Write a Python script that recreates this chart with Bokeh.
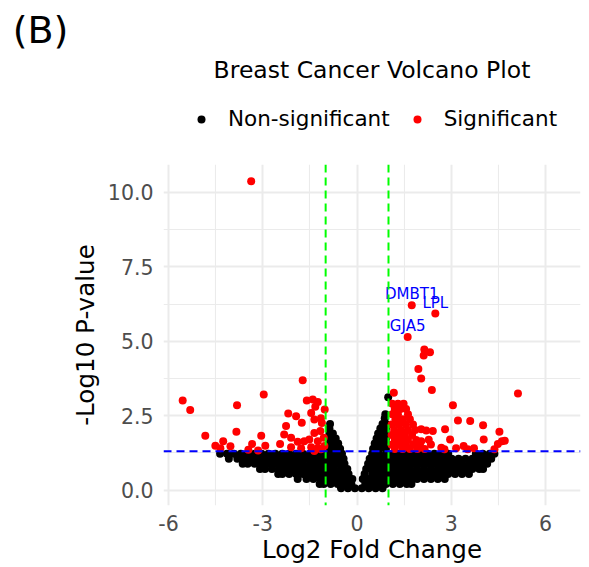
import numpy as np
from bokeh.plotting import figure
from bokeh.layouts import column
from bokeh.models import (ColumnDataSource, FixedTicker, Legend, LegendItem,
                          Span, Range1d)
from bokeh.core.properties import value
from bokeh.embed import file_html
from bokeh.resources import INLINE

FONT = "DejaVu Sans"

# ---- thresholds ----
FC_CUTOFF = 1.0
P_CUTOFF = 0.05

# ---- axis ticks ----
x_ticks = [-6, -3, 0, 3, 6]
x_tick_labels = ["-6", "-3", "0", "3", "6"]
x_minor = [-4.5, -1.5, 1.5, 4.5]
y_ticks = [0, 2.5, 5, 7.5, 10]
y_tick_labels = ["0.0", "2.5", "5.0", "7.5", "10.0"]
y_minor = [1.25, 3.75, 6.25, 8.75]

# ---- significant genes (log2FC, -log10 p) ----
sig_x = [-3.37, -5.55, -5.31, -2.97, -3.82, -4.83, -3.84, -4.51, -4.26, -4.35,
         -4.03, -3.34, -3.05, -2.92, -3.15, -3.46, -2.45, -1.73, -1.60, -1.41,
         -1.25, -1.03, -2.19, -1.94, -1.76, -1.46, -1.36, -1.15, -2.26, -2.32,
         -2.10, -1.89, -1.68, -1.52, -1.36, -1.17, -1.25, -1.06, -1.46, -1.04,
         -2.10, -1.78, -1.25, -1.33, -1.12, -1.36, -1.15,
         1.74, 2.49, 1.61, 2.14, 2.32, 2.12, 1.95, 2.04, 2.38, 1.17,
         3.05, 5.12, 3.21, 3.60, 4.01, 2.80, 4.53, 2.96, 4.03, 4.61,
         4.48, 3.39, 3.72, 4.37, 2.04, 2.20, 2.41, 2.28, 2.68, 3.15,
         2.78, 2.04, 2.35, 4.70, 3.52,
         1.12, 1.30, 1.48, 1.20, 1.38, 1.56, 1.12, 1.30, 1.62, 1.22,
         1.45, 1.68, 1.10, 1.32, 1.55, 1.78, 1.18, 1.40, 1.62, 1.85,
         1.10, 1.30, 1.52, 1.75, 1.20, 1.42, 1.62, 1.88, 1.10, 1.32,
         1.55, 1.78, 2.00, 1.20, 1.45, 1.68, 1.92, 2.15]
sig_y = [10.38, 3.01, 2.69, 3.21, 2.85, 1.82, 1.96, 1.49, 1.64, 1.40,
         1.47, 1.55, 1.82, 1.49, 1.33, 1.35, 1.55, 3.69, 3.01, 3.04,
         2.96, 2.71, 2.57, 2.48, 2.26, 2.59, 2.37, 2.41, 2.15, 1.87,
         1.76, 1.62, 1.64, 1.70, 1.92, 1.98, 1.64, 1.76, 1.44, 1.48,
         1.44, 1.40, 1.40, 2.80, 2.25, 1.31, 1.37,
         6.21, 5.93, 5.14, 4.72, 4.63, 4.52, 4.07, 3.75, 3.36, 3.27,
         2.85, 3.24, 2.34, 2.32, 2.18, 2.04, 1.96, 1.70, 1.70, 1.64,
         1.55, 1.48, 1.40, 1.37, 2.04, 2.00, 1.98, 1.69, 1.42, 1.40,
         1.37, 1.64, 1.53, 1.66, 1.37,
         2.90, 2.90, 2.90, 2.72, 2.72, 2.72, 2.55, 2.55, 2.55, 2.38,
         2.38, 2.38, 2.20, 2.20, 2.20, 2.20, 2.02, 2.02, 2.02, 2.02,
         1.85, 1.85, 1.85, 1.85, 1.68, 1.68, 1.68, 1.68, 1.52, 1.52,
         1.52, 1.52, 1.52, 1.38, 1.38, 1.38, 1.38, 1.38]

# ---- non-significant genes, read row by row off the dense cloud ----
ns_levels = [1.22, 1.05, 0.88, 0.71, 0.54, 0.37, 0.20, 0.06,
             1.39, 1.56, 1.73, 1.90, 2.07, 2.22, 2.41, 2.55, 3.12]
ns_x_by_level = [
    [-4.36, -4.14, -3.92, -3.70, -3.48, -3.26, -3.04, -2.82, -2.60, -2.38,
     -2.16, -1.94, -1.72, -1.50, -1.28, -1.06, -0.84, -0.62, -0.48,
     0.48, 0.70, 0.92, 1.14, 1.36, 1.58, 1.80, 2.02, 2.24, 2.46, 2.68, 2.90,
     3.78, 4.00, 4.22, 4.37],
    [-4.08, -3.81, -3.59, -3.37, -3.15, -2.93, -2.71, -2.49, -2.27, -2.05,
     -1.83, -1.61, -1.39, -1.17, -0.95, -0.73, -0.51, -0.43,
     0.40, 0.59, 0.81, 1.03, 1.25, 1.47, 1.69, 1.91, 2.13, 2.35, 2.57, 2.79,
     3.01, 3.23, 3.45, 3.67, 3.89, 4.11, 4.27],
    [-3.64, -3.48, -3.26, -3.04, -2.82, -2.60, -2.38, -2.16, -1.94, -1.72,
     -1.50, -1.28, -1.06, -0.84, -0.62, -0.40,
     0.35, 0.48, 0.70, 0.92, 1.14, 1.36, 1.58, 1.80, 2.02, 2.24, 2.46, 2.68,
     2.90, 3.12, 3.34, 3.56, 3.78, 4.00, 4.14],
    [-3.09, -2.93, -2.71, -2.49, -2.27, -2.05, -1.83, -1.61, -1.39, -1.17,
     -0.95, -0.73, -0.51, -0.31,
     0.29, 0.44, 0.59, 0.81, 1.03, 1.25, 1.47, 1.69, 1.91, 2.13, 2.35, 2.57,
     2.79, 3.01, 3.23, 3.45, 3.67, 3.89, 4.01],
    [-2.51, -2.38, -2.16, -1.94, -1.72, -1.50, -1.28, -1.06, -0.84, -0.62,
     -0.40, -0.27,
     0.24, 0.48, 0.70, 0.92, 1.14, 1.36, 1.58, 1.80, 2.02, 2.24, 2.46, 2.68,
     2.90, 3.12, 3.34, 3.56],
    [-1.89, -1.61, -1.39, -1.17, -0.95, -0.73, -0.51, -0.29, -0.15,
     0.18, 0.37, 0.59, 0.81, 1.03, 1.25, 1.47, 1.69, 1.91, 2.13, 2.35, 2.57,
     2.79],
    [-1.19, -1.06, -0.84, -0.62, -0.40, -0.18,
     0.26, 0.48, 0.70, 0.92, 1.14, 1.36, 1.58, 1.73],
    [-0.51, -0.29, -0.07, 0.15, 0.37, 0.59, 0.81],
    [-0.88, -0.71, -0.54, 0.51, 0.71, 0.92],
    [-0.88, -0.74, -0.60, 0.56, 0.74, 0.92],
    [-0.88, -0.68, 0.62, 0.78, 0.92],
    [-0.88, -0.77, 0.67, 0.80, 0.92],
    [-0.88, 0.74, 0.92],
    [-0.86, 0.81, 0.92],
    [0.88],
    [0.90],
    [0.99],
]

# ---- labelled genes ----
gene_names = ["DMBT1", "LPL", "GJA5"]
gene_x = [1.74, 2.49, 1.61]
gene_y = [6.21, 5.93, 5.14]

# ---- header texts ----
panel_tag = "(B)"
plot_title = "Breast Cancer Volcano Plot"
legend_labels = ["Non-significant", "Significant"]
legend_colors = ["black", "#FF0000"]

# ---- build sources ----
ns_x, ns_y = [], []
for lvl, xs in zip(ns_levels, ns_x_by_level):
    ns_x.extend(xs)
    ns_y.extend([lvl] * len(xs))
ns_src = ColumnDataSource(dict(x=ns_x, y=ns_y))
sig_src = ColumnDataSource(dict(x=sig_x, y=sig_y))
gene_src = ColumnDataSource(dict(x=gene_x, y=gene_y, name=gene_names))

W = 589
HEAD_H = 164
MAIN_H = 403

# ================= header (tag, title, legend) =================
head = figure(width=W, height=HEAD_H, x_range=Range1d(0, W),
              y_range=Range1d(HEAD_H, 0), output_backend="svg",
              toolbar_location=None, min_border=0, frame_align=False,
              background_fill_color="white", border_fill_color="white",
              outline_line_color=None)
head.axis.visible = False
head.grid.visible = False
head.text(x=[40], y=[29], text=[panel_tag], text_align="center",
          text_baseline="middle", text_font=value(FONT),
          text_font_size="38px", text_color="black")
head.text(x=[371.5], y=[69], text=[plot_title], text_align="center",
          text_baseline="middle", text_font=value(FONT),
          text_font_size="23.5px", text_color="black")
leg_items = []
for lab, col in zip(legend_labels, legend_colors):
    # proxy glyph (kept outside the header's visible range) for the key
    r = head.scatter(x=[-1000], y=[-1000], size=8, color=col, line_width=0)
    leg_items.append(LegendItem(label=lab, renderers=[r]))
legend = Legend(items=leg_items, orientation="horizontal", location=(191, 33),
                label_text_font=FONT, label_text_font_size="21.5px",
                label_text_color="black",
                glyph_width=20, glyph_height=20, label_standoff=17,
                spacing=17, padding=0, margin=0,
                border_line_color=None, background_fill_alpha=0)
head.add_layout(legend)

# ================= main panel =================
p = figure(width=W, height=MAIN_H,
           x_range=Range1d(-6.16, 7.11), y_range=Range1d(-0.52, 10.94),
           output_backend="svg", toolbar_location=None, frame_align=False,
           min_border_left=163, min_border_right=9,
           min_border_top=0, min_border_bottom=62,
           background_fill_color="white", border_fill_color="white",
           outline_line_color=None)

p.xaxis.ticker = FixedTicker(ticks=x_ticks, minor_ticks=x_minor)
p.yaxis.ticker = FixedTicker(ticks=y_ticks, minor_ticks=y_minor)
p.xaxis.major_label_overrides = {t: l for t, l in zip(x_ticks, x_tick_labels)}
p.yaxis.major_label_overrides = {t: l for t, l in zip(y_ticks, y_tick_labels)}
for g in (p.xgrid, p.ygrid):
    g.grid_line_color = "#EBEBEB"
    g.grid_line_width = 2
    g.minor_grid_line_color = "#EBEBEB"
    g.minor_grid_line_width = 1.1
for ax in (p.xaxis, p.yaxis):
    ax.axis_line_color = None
    ax.major_tick_line_color = None
    ax.minor_tick_line_color = None
    ax.major_tick_out = 0
    ax.major_tick_in = 0
    ax.minor_tick_out = 0
    ax.minor_tick_in = 0
    ax.major_label_text_font = FONT
    ax.major_label_text_font_size = "20.5px"
    ax.major_label_text_color = "#4D4D4D"
    ax.axis_label_text_font = FONT
    ax.axis_label_text_font_size = "24.6px"
    ax.axis_label_text_font_style = "normal"
    ax.axis_label_text_color = "black"
p.xaxis.axis_label = "Log2 Fold Change"
p.yaxis.axis_label = "-Log10 P-value"
p.xaxis.major_label_standoff = 9
p.xaxis.axis_label_standoff = 1
p.yaxis.major_label_standoff = 10
p.yaxis.axis_label_standoff = 5

ns_r = p.scatter("x", "y", source=ns_src, size=8, color="black", line_width=0)
sig_r = p.scatter("x", "y", source=sig_src, size=8, color="#FF0000", line_width=0)

p_line = -np.log10(P_CUTOFF)
for loc in (-FC_CUTOFF, FC_CUTOFF):
    p.add_layout(Span(location=loc, dimension="height", line_color="#00FF00",
                      line_dash="8 5", line_width=2))
p.add_layout(Span(location=p_line, dimension="width", line_color="#0000FF",
                  line_dash="8 5", line_width=2))

p.text("x", "y", text="name", source=gene_src, text_align="center",
       text_baseline="middle", y_offset=-11, text_color="#0000FF",
       text_font=value(FONT), text_font_size="15px")

layout = column(head, p, spacing=0)
open("out.html", "w").write(file_html(layout, INLINE))
